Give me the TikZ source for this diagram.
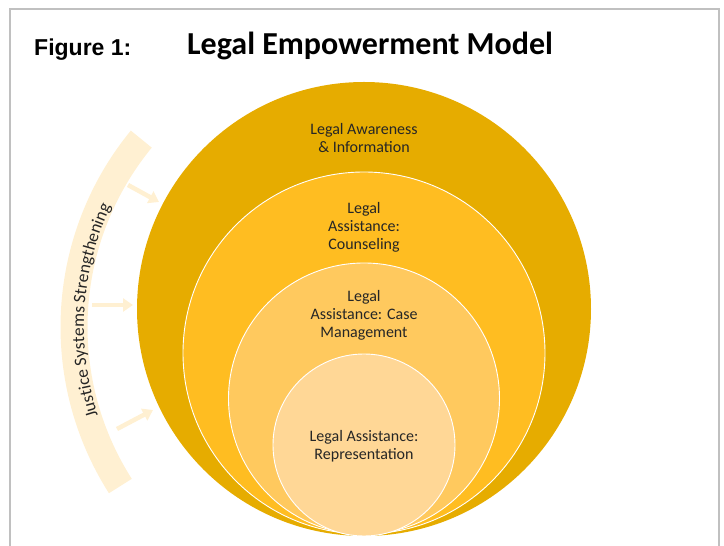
\documentclass[tikz,border=0pt]{standalone}
\usepackage{fontspec}
\setmainfont{Carlito}
\newfontfamily\arialfont{Liberation Sans}
\usepackage{xcolor}
\usetikzlibrary{
    arrows.meta,
    positioning,
    decorations.text
}
\definecolor{ringA}{RGB}{230,172,0}
\definecolor{ringB}{RGB}{255,189,33}
\definecolor{ringC}{RGB}{255,201,94}
\definecolor{ringD}{RGB}{255,215,150}
\definecolor{bandcream}{RGB}{255,240,210}
\definecolor{framegray}{RGB}{192,192,192}
\definecolor{inktext}{RGB}{38,38,38}
\newcommand{\ringfont}{\fontsize{16}{18}\selectfont}
\newcommand{\bandfont}{\fontsize{17.5}{19}\selectfont\color{inktext}}

\begin{document}
\begin{tikzpicture}[x=1pt, y=1pt,
        ring/.style={circle, inner sep=0pt, outer sep=0pt, draw=white, line width=0.9pt},
        ringtext/.style={align=center, font=\ringfont, text=inktext, inner sep=0pt},
        band/.style={draw=bandcream, line width=27pt, line cap=butt},
        push/.style={-{Triangle[length=10pt, width=13pt]}, draw=bandcream, line width=4.5pt}
    ]
        \useasboundingbox (0,0) rectangle (724,546);

        % Frame
        \draw[framegray, line width=2pt] (10,-5) -- (10,537) -- (719,537) -- (719,-5);

        % Title
        \node[anchor=base west, inner sep=0pt, font=\arialfont\bfseries\fontsize{23}{26}\selectfont] (fig) at (34,490) {Figure 1:};
        \node[anchor=base west, inner sep=0pt, font=\bfseries\fontsize{32}{35}\selectfont] (title) at (187,491) {Legal Empowerment Model};

        % Rings
        \node[ring, draw=none, fill=ringA, minimum size=454pt] (aware) at (364,237) {};
        \node[ring, fill=ringB, minimum size=362pt] (counsel) at (364,193) {};
        \node[ring, fill=ringC, minimum size=271pt] (casemgmt) at (364,147.5) {};
        \node[ring, fill=ringD, minimum size=182pt] (repr) at (364,101) {};

        % Ring labels
        \node[ringtext] (awaretxt) at (364,408) {Legal Awareness\\\& Information};
        \node[ringtext] (counseltxt) at (364,319) {Legal\\Assistance:\\Counseling};
        \node[ringtext] (casetxt) at (364,230.5) {Legal\\Assistance: Case\\Management};
        \node[ringtext] (reprtxt) at (364,99.5) {Legal Assistance:\\Representation};

        % Justice systems band
        \draw[band] (370,219) ++(212.5:296pt) arc[start angle=212.5, end angle=140.6, radius=296pt];
        \path[decorate, decoration={text along path, text align=center,
                text={|\bandfont|Justice Systems Strengthening}}]
            (370,219) ++(212.5:286pt) arc[start angle=212.5, end angle=140.6, radius=286pt];

        % Arrows
        \coordinate (jtop) at (128,361);
        \coordinate (jmid) at (92,241);
        \coordinate (jbot) at (117,117);
        \coordinate (atop) at (159,344);
        \coordinate (amid) at (133,241);
        \coordinate (abot) at (153,136);
        \draw[push] (jtop) -- (atop);
        \draw[push] (jmid) -- (amid);
        \draw[push] (jbot) -- (abot);
    \end{tikzpicture}
\end{document}
